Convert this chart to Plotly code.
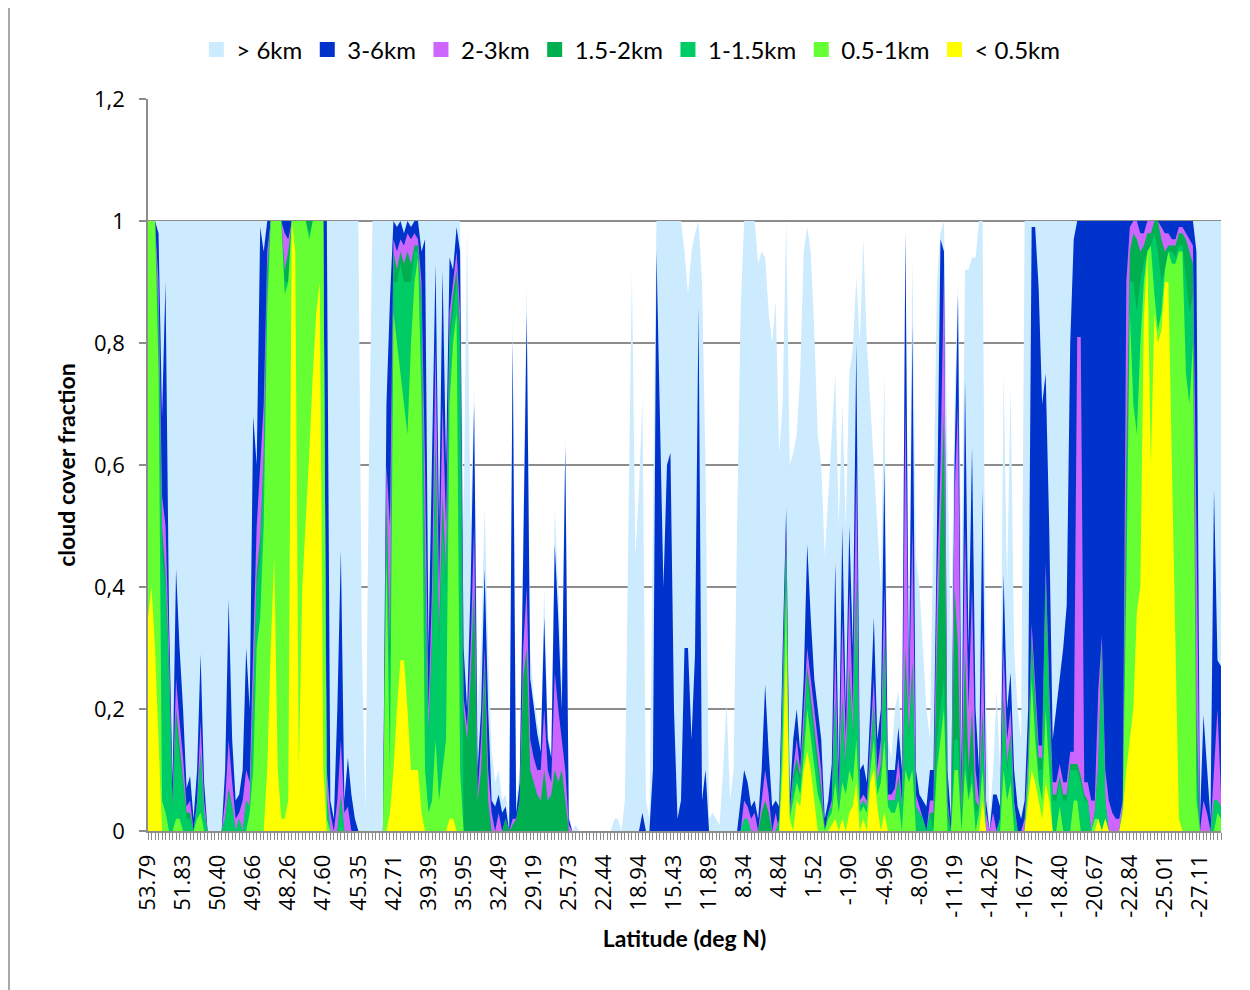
import plotly.graph_objects as go

# ---------------- data ----------------
lat_labels = ["53.79", "51.83", "50.40", "49.66", "48.26", "47.60", "45.35", "42.71",
              "39.39", "35.95", "32.49", "29.19", "25.73", "22.44", "18.94", "15.43",
              "11.89", "8.34", "4.84", "1.52", "-1.90", "-4.96", "-8.09", "-11.19",
              "-14.26", "-16.77", "-18.40", "-20.67", "-22.84", "-25.01", "-27.11"]

series_names = ["> 6km", "3-6km", "2-3km", "1.5-2km", "1-1.5km", "0.5-1km", "< 0.5km"]

# cloud cover fraction with cloud base below each level (one value per profile)
over6 = [
    1, 1, 1, 1, 1, 1, 1, 1, 1, 1,
    1, 1, 1, 1, 1, 1, 1, 1, 1, 1,
    1, 1, 1, 1, 1, 1, 1, 1, 1, 1,
    1, 1, 1, 1, 1, 1, 1, 1, 1, 1,
    1, 1, 1, 1, 1, 1, 1, 1, 1, 1,
    1, 1, 1, 1, 1, 1, 1, 1, 1, 1,
    1, .30, .03, .60, 1, 1, 1, 1, 1, 1,
    1, 1, 1, 1, 1, 1, 1, 1, 1, 1,
    1, 1, 1, 1, 1, 1, 1, 1, 1, 1,
    .50, .99, .50, .73, .20, .30, .53, .30, .13, .08,
    .10, .05, .06, .02, .85, .05, .10, .50, .90, .30,
    .22, .18, .15, .40, .16, .13, .53, .40, .25, .65,
    .03, 0, .01, 0, 0, 0, 0, 0, 0, 0,
    0, 0, 0, .02, .02, 0, .05, .50, .92, .45,
    .56, .71, .05, .02, .50, 1, 1, 1, 1, 1,
    1, 1, 1, .95, .88, .95, .98, 1, .90, .60,
    .02, .03, .02, .01, .10, .21, .05, .10, .50, .85,
    1, 1, 1, 1, .93, .95, .94, .85, .80, .87,
    .62, .70, 1, .60, .62, .65, .75, .95, .99, .95,
    .82, .65, .60, .45, .55, .66, .75, .50, .70, .50,
    .75, .79, .91, .80, .97, .80, .70, .60, .50, .40,
    .75, .15, .12, .20, .23, .15, .99, .30, .94, .45,
    .40, .30, .20, .15, .50, .90, .98, 1, .60, .30,
    .70, .90, .40, .92, .92, .94, .94, 1, 1, .20,
    .02, .10, .23, .10, .75, .40, .73, .30, .20, .15,
    1, 1, 1, 1, 1, 1, 1, 1, 1, 1,
    1, 1, 1, 1, 1, 1, 1, 1, 1, 1,
    1, 1, 1, 1, 1, 1, 1, 1, 1, 1,
    1, 1, 1, 1, 1, 1, 1, 1, 1, 1,
    1, 1, 1, 1, 1, 1, 1, 1, 1, 1,
    1, 1, 1, 1, 1, 1, 1,
]

km3_6 = [
    1, 1, 1, .98, .68, .90, .35, .08, .43, .30,
    .20, .07, .09, .02, .10, .29, .08, 0, 0, 0,
    0, 0, .10, .38, .15, .05, .06, .10, .30, .20,
    .68, .60, .99, .95, 1, 1, 1, 1, 1, 1,
    1, 1, 1, 1, 1, 1, 1, 1, 1, 1,
    1, 1, .05, .02, .20, .46, .05, .12, .06, .02,
    0, 0, 0, 0, 0, 0, 0, 0, .70, .87,
    1, .99, 1, .98, 1, .99, 1, 1, .95, .97,
    .30, .60, .93, .50, .92, .60, .94, .92, .99, .95,
    .30, .20, .40, .70, .10, .20, .43, .20, .05, .04,
    .06, .03, .04, 0, .80, .03, .08, .45, .85, .25,
    .20, .16, .13, .35, .15, .12, .47, .35, .20, .63,
    .02, 0, 0, 0, 0, 0, 0, 0, 0, 0,
    0, 0, 0, 0, 0, 0, 0, 0, 0, 0,
    0, .03, 0, 0, .10, .95, .70, .40, .60, .62,
    .20, .02, .05, .30, .30, .15, .29, .86, .05, .10,
    0, 0, 0, 0, 0, 0, 0, 0, 0, .05,
    .10, .08, .04, .05, .02, .10, .24, .13, .04, .05,
    .04, .30, .53, .05, .15, .20, .13, .25, .47, .35,
    .25, .20, .15, .02, .05, .11, .44, .10, .50, .20,
    .50, .30, .80, .10, .11, .08, .20, .35, .15, .20,
    .60, .10, .10, .10, .17, .10, .98, .24, .83, .10,
    .06, .05, .04, .10, .10, .50, .97, .95, .10, .02,
    .60, .88, .10, .74, .30, .63, .20, .10, .56, .05,
    0, .06, .06, .04, .42, .20, .26, .10, .04, .02,
    .05, .20, .99, .99, .89, .70, .75, .50, .15, .20,
    .25, .30, .37, .80, .97, 1, 1, 1, 1, 1,
    1, 1, 1, 1, 1, 1, 1, 1, 1, 1,
    1, 1, 1, 1, 1, 1, 1, 1, 1, 1,
    1, 1, 1, 1, 1, 1, 1, 1, 1, .95,
    .02, .19, .10, .02, .56, .28, .27,
]

km2_3 = [
    1, 1, 1, .90, .55, .50, .30, .05, .25, .18,
    .12, .04, .05, 0, .05, .18, .05, 0, 0, 0,
    0, 0, .05, .15, .08, .02, .03, .05, .10, .08,
    .30, .50, .60, .70, .95, 1, 1, 1, 1, .98,
    .97, 1, 1, 1, 1, 1, 1, 1, 1, 1,
    1, .10, .03, 0, .05, .15, .03, .04, 0, 0,
    0, 0, 0, 0, 0, 0, 0, 0, .60, .50,
    .97, .95, .97, .96, .98, .97, .98, .97, .90, .60,
    .20, .40, .80, .40, .70, .50, .85, .90, .95, .85,
    .22, .17, .30, .50, .06, .15, .30, .10, .03, 0,
    .03, 0, .02, 0, .02, .02, .05, .30, .40, .15,
    .12, .10, .10, .20, .10, .08, .26, .20, .15, .10,
    .01, 0, 0, 0, 0, 0, 0, 0, 0, 0,
    0, 0, 0, 0, 0, 0, 0, 0, 0, 0,
    0, 0, 0, 0, 0, 0, 0, 0, 0, 0,
    0, 0, 0, 0, 0, 0, 0, 0, 0, 0,
    0, 0, 0, 0, 0, 0, 0, 0, 0, 0,
    .05, .04, .02, .03, 0, .05, .10, .06, 0, .03,
    0, .25, .50, .03, .10, .15, .10, .20, .30, .25,
    .20, .15, .10, 0, .03, .05, .30, .05, .35, .15,
    .40, .20, .60, .05, .06, .05, .15, .25, .10, .15,
    .40, .06, .06, .07, .12, .05, .70, .20, .50, .06,
    .04, .02, 0, .05, .05, .40, .60, .92, .05, 0,
    .55, .70, .05, .50, .20, .40, .10, .05, .33, .03,
    0, .03, 0, .02, .30, .15, .20, .05, 0, 0,
    .02, .13, .34, .24, .14, .14, .44, .24, .08, .08,
    .11, .08, .08, .13, .13, .81, .81, .08, .08, .05,
    .05, .23, .32, .10, .05, .03, .02, .02, .05, .90,
    .99, 1, 1, .98, .98, 1, 1, 1, 1, .99,
    .98, .98, .97, .97, .99, .99, .98, .97, .96, .50,
    0, .05, .03, 0, .10, .20, .06,
]

km15_2 = [
    1, 1, 1, .85, .50, .42, .27, .04, .20, .14,
    .09, .03, .03, 0, .04, .13, .03, 0, 0, 0,
    0, 0, .02, .07, .04, 0, .02, 0, .05, .04,
    .22, .42, .48, .62, .92, 1, 1, 1, 1, .92,
    .95, 1, 1, 1, 1, 1, 1, 1, 1, 1,
    1, .06, 0, 0, 0, .06, 0, 0, 0, 0,
    0, 0, 0, 0, 0, 0, 0, 0, .55, .30,
    .95, .92, .95, .93, .95, .93, .96, .96, .87, .45,
    .16, .32, .65, .32, .55, .42, .82, .88, .92, .82,
    .20, .15, .25, .40, .05, .10, .28, .05, 0, 0,
    0, 0, .02, 0, .01, .02, .05, .25, .30, .10,
    .08, .06, .05, .10, .05, .06, .10, .08, .10, .05,
    0, 0, 0, 0, 0, 0, 0, 0, 0, 0,
    0, 0, 0, 0, 0, 0, 0, 0, 0, 0,
    0, 0, 0, 0, 0, 0, 0, 0, 0, 0,
    0, 0, 0, 0, 0, 0, 0, 0, 0, 0,
    0, 0, 0, 0, 0, 0, 0, 0, 0, 0,
    0, 0, 0, 0, 0, .03, .05, .03, 0, 0,
    0, .22, .48, .02, .09, .12, .09, .17, .27, .22,
    .17, .12, .07, 0, .03, .04, .22, .04, .22, .11,
    .27, .16, .42, .04, .05, .04, .13, .21, .08, .11,
    .32, .05, .05, .05, .09, .04, .30, .16, .28, .04,
    .03, .02, 0, .03, .03, .30, .50, .69, .04, 0,
    .40, .30, .03, .30, .10, .20, .05, .04, .20, 0,
    0, 0, 0, .02, .22, .11, .16, .04, 0, 0,
    0, .11, .32, .22, .12, .12, .42, .22, .06, .06,
    .09, .06, .06, .11, .11, .11, .09, .06, .05, 0,
    .03, .11, .31, .05, 0, 0, 0, 0, .04, .60,
    .95, .98, .97, .95, .96, .98, .98, 1, 1, .97,
    .95, .96, .96, .96, .98, .98, .97, .95, .93, .20,
    0, 0, 0, 0, .05, .05, .04,
]

km1_15 = [
    1, 1, 1, .80, .45, .40, .25, .03, .18, .12,
    .08, .02, .02, 0, .04, .12, .03, 0, 0, 0,
    0, 0, .02, .06, .04, 0, .02, 0, .05, .04,
    .20, .40, .45, .60, .90, 1, 1, 1, 1, .90,
    .90, 1, 1, 1, 1, 1, .98, 1, 1, 1,
    1, .05, 0, 0, 0, .05, 0, 0, 0, 0,
    0, 0, 0, 0, 0, 0, 0, 0, .50, .25,
    .90, .90, .93, .90, .90, .90, .95, .95, .85, .40,
    .15, .30, .60, .30, .50, .40, .80, .85, .90, .80,
    0, 0, 0, 0, 0, 0, 0, 0, 0, 0,
    0, 0, 0, 0, 0, 0, 0, 0, 0, 0,
    0, 0, 0, 0, 0, 0, 0, 0, 0, 0,
    0, 0, 0, 0, 0, 0, 0, 0, 0, 0,
    0, 0, 0, 0, 0, 0, 0, 0, 0, 0,
    0, 0, 0, 0, 0, 0, 0, 0, 0, 0,
    0, 0, 0, 0, 0, 0, 0, 0, 0, 0,
    0, 0, 0, 0, 0, 0, 0, 0, 0, 0,
    .02, .02, 0, 0, 0, 0, 0, 0, 0, 0,
    .02, .20, .46, .02, .08, .10, .08, .15, .25, .20,
    .15, .10, .06, 0, .03, .04, .20, .04, .20, .10,
    .25, .15, .40, .04, .05, .04, .12, .20, .08, .10,
    .30, .05, .05, .05, .08, .04, .25, .15, .25, .04,
    .03, .02, 0, .03, 0, .15, .20, .25, .02, 0,
    .15, .15, 0, .15, .06, .10, .03, .04, .15, 0,
    0, 0, 0, .02, .20, .10, .15, .04, 0, 0,
    0, .10, .30, .20, .10, .10, .40, .20, .05, .05,
    .08, .05, .05, .10, .10, .10, .08, .05, .05, 0,
    .03, .10, .30, .05, 0, 0, 0, 0, .04, .50,
    .90, .90, .85, .90, .93, .95, .96, .98, .95, .90,
    .92, .95, .95, .94, .96, .96, .90, .85, .88, .10,
    0, 0, 0, 0, .05, .05, .04,
]

km05_1 = [
    1, 1, 1, .75, .05, .03, 0, 0, .02, .02,
    0, 0, 0, 0, .02, .03, 0, 0, 0, 0,
    0, 0, 0, 0, 0, 0, 0, 0, 0, .03,
    .10, .30, .35, .50, .85, 1, 1, 1, 1, .88,
    .90, 1, 1, 1, 1, 1, .97, 1, 1, 1,
    1, .02, 0, 0, 0, 0, 0, 0, 0, 0,
    0, 0, 0, 0, 0, 0, 0, 0, .45, .10,
    .85, .80, .75, .70, .65, .80, .90, .94, .70, .10,
    .03, .05, .15, .05, .10, .15, .70, .80, .85, .10,
    0, 0, 0, 0, 0, 0, 0, 0, 0, 0,
    0, 0, 0, 0, 0, 0, 0, 0, 0, 0,
    0, 0, 0, 0, 0, 0, 0, 0, 0, 0,
    0, 0, 0, 0, 0, 0, 0, 0, 0, 0,
    0, 0, 0, 0, 0, 0, 0, 0, 0, 0,
    0, 0, 0, 0, 0, 0, 0, 0, 0, 0,
    0, 0, 0, 0, 0, 0, 0, 0, 0, 0,
    0, 0, 0, 0, 0, 0, 0, 0, 0, 0,
    0, 0, 0, 0, 0, 0, 0, 0, 0, 0,
    0, .15, .40, .02, .05, .08, .06, .12, .20, .15,
    .10, .06, .04, 0, .02, .03, .08, .03, .08, .06,
    .10, .08, .15, .03, .04, .03, .10, .15, .06, .08,
    .15, .04, .03, .03, .05, 0, .10, .08, .10, 0,
    0, 0, 0, 0, 0, .10, .15, .20, 0, 0,
    .10, .10, 0, .10, .05, .08, 0, .03, .10, 0,
    0, 0, 0, 0, .10, .05, .08, 0, 0, 0,
    0, .08, .25, .15, .08, .05, .20, .10, 0, 0,
    .04, 0, 0, 0, .05, .05, 0, 0, 0, 0,
    .02, .02, 0, .02, 0, 0, 0, 0, .04, .40,
    .85, .70, .65, .80, .90, .95, .96, .88, .82, .85,
    .92, .95, .93, .93, .95, .95, .75, .70, .80, .05,
    0, 0, 0, 0, 0, .03, .02,
]

under05 = [
    .35, .40, .30, .15, 0, 0, 0, 0, 0, 0,
    0, 0, 0, 0, 0, 0, 0, 0, 0, 0,
    0, 0, 0, 0, 0, 0, 0, 0, 0, 0,
    0, 0, 0, 0, .10, .30, .45, .10, .02, .02,
    .05, 1, .95, .10, .40, .50, .62, .75, .85, .90,
    .10, 0, 0, 0, 0, 0, 0, 0, 0, 0,
    0, 0, 0, 0, 0, 0, 0, 0, 0, .03,
    .10, .20, .28, .28, .20, .10, .10, .10, .03, 0,
    0, 0, 0, 0, 0, 0, .02, .02, 0, 0,
    0, 0, 0, 0, 0, 0, 0, 0, 0, 0,
    0, 0, 0, 0, 0, 0, 0, 0, 0, 0,
    0, 0, 0, 0, 0, 0, 0, 0, 0, 0,
    0, 0, 0, 0, 0, 0, 0, 0, 0, 0,
    0, 0, 0, 0, 0, 0, 0, 0, 0, 0,
    0, 0, 0, 0, 0, 0, 0, 0, 0, 0,
    0, 0, 0, 0, 0, 0, 0, 0, 0, 0,
    0, 0, 0, 0, 0, 0, 0, 0, 0, 0,
    0, 0, 0, 0, 0, 0, 0, 0, 0, 0,
    0, .10, .30, .02, 0, .05, .04, .10, .13, .10,
    .05, 0, 0, 0, 0, .01, .02, 0, .02, 0,
    .03, .04, .08, 0, .02, 0, .08, .10, .04, 0,
    .03, 0, 0, 0, 0, 0, 0, 0, 0, 0,
    0, 0, 0, 0, 0, 0, 0, 0, 0, 0,
    0, 0, 0, 0, 0, 0, 0, 0, .05, 0,
    0, 0, 0, 0, 0, 0, 0, 0, 0, 0,
    0, .05, .10, .08, .05, .02, .08, .05, 0, 0,
    0, 0, 0, 0, 0, 0, 0, 0, 0, 0,
    0, .02, 0, .02, 0, 0, 0, 0, .03, .10,
    .15, .20, .36, .40, .84, .95, .60, .85, .80, .82,
    .90, .90, .60, .30, .02, 0, 0, 0, 0, 0,
    0, 0, 0, 0, 0, 0, 0,
]

y_tick_vals = [0, 0.2, 0.4, 0.6, 0.8, 1.0, 1.2]
y_tick_text = ["0", "0,2", "0,4", "0,6", "0,8", "1", "1,2"]

colors = ["#CCEBFF", "#0033CC", "#CC66FF", "#00B050", "#00CC66", "#66FF33", "#FFFF00"]

all_series = [over6, km3_6, km2_3, km15_2, km1_15, km05_1, under05]
n = len(over6)
for s in all_series:
    assert len(s) == n, (len(s), n)
x = list(range(n))
label_pos = [k * 10 for k in range(len(lat_labels))]

fig = go.Figure()
# overlapping (not stacked) areas, highest level drawn first
for name, vals, col in zip(series_names, all_series, colors):
    fig.add_trace(go.Scatter(x=x, y=vals, mode="lines", line=dict(width=0, color=col),
                             fill="tozeroy", fillcolor=col, name=name,
                             showlegend=False, hoverinfo="skip"))
# legend entries with square keys
for name, col in zip(series_names, colors):
    fig.add_trace(go.Scatter(x=[None], y=[None], mode="markers",
                             marker=dict(symbol="square", size=15, color=col),
                             name=name, showlegend=True))

GRID = "#8C8C8C"
# the page body has an 8px margin, so the figure is 8px smaller than the window
fig.update_layout(
    template="none",
    width=1242, height=982,
    margin=dict(l=140, r=29, t=91, b=159),
    paper_bgcolor="white", plot_bgcolor="white",
    font=dict(family="Open Sans", color="black"),
    hovermode=False,
    legend=dict(orientation="h", x=0.45, xanchor="center", y=1.067, yanchor="middle",
                font=dict(family="Lato", size=24, color="black"),
                bgcolor="rgba(0,0,0,0)", itemwidth=30, traceorder="normal"),
    xaxis=dict(range=[0, n - 1], tickmode="array", tickvals=label_pos, ticktext=lat_labels,
               tickangle=-90, tickfont=dict(family="Open Sans", size=22, color="black"),
               ticks="outside", ticklen=7, tickcolor=GRID, tickwidth=1,
               minor=dict(dtick=1, tick0=0, ticks="outside", ticklen=7, tickcolor=GRID,
                          tickwidth=1, showgrid=False),
               showline=True, linecolor=GRID, linewidth=1.5, showgrid=False, zeroline=False,
               automargin=False, ticklabelstandoff=6,
               title=dict(text="<b>Latitude (deg N)</b>", standoff=14,
                          font=dict(family="Lato", size=23, color="black"))),
    yaxis=dict(range=[0, 1.2], tickmode="array", tickvals=y_tick_vals, ticktext=y_tick_text,
               tickfont=dict(family="Open Sans", size=22, color="black"),
               ticks="outside", ticklen=7, tickcolor=GRID, tickwidth=1.5,
               showline=True, linecolor=GRID, linewidth=1.5,
               showgrid=True, gridcolor=GRID, gridwidth=1.5, zeroline=False,
               automargin=False, ticklabelstandoff=10,
               title=dict(text="<b>cloud cover fraction</b>", standoff=12,
                          font=dict(family="Lato", size=23, color="black"))),
)

# chart-area frame: only its left edge falls inside the picture
L_, R_, T_, B_ = 148, 1221, 99, 831
def px2x(px):
    return (px - L_) / (R_ - L_)
def py2y(py):
    return (B_ - py) / (B_ - T_)
fig.add_shape(type="line", xref="paper", yref="paper",
              x0=px2x(9), x1=px2x(9), y0=py2y(992), y1=py2y(6),
              line=dict(color="#8C8C8C", width=1.5), layer="below")

fig.write_html("out.html")
